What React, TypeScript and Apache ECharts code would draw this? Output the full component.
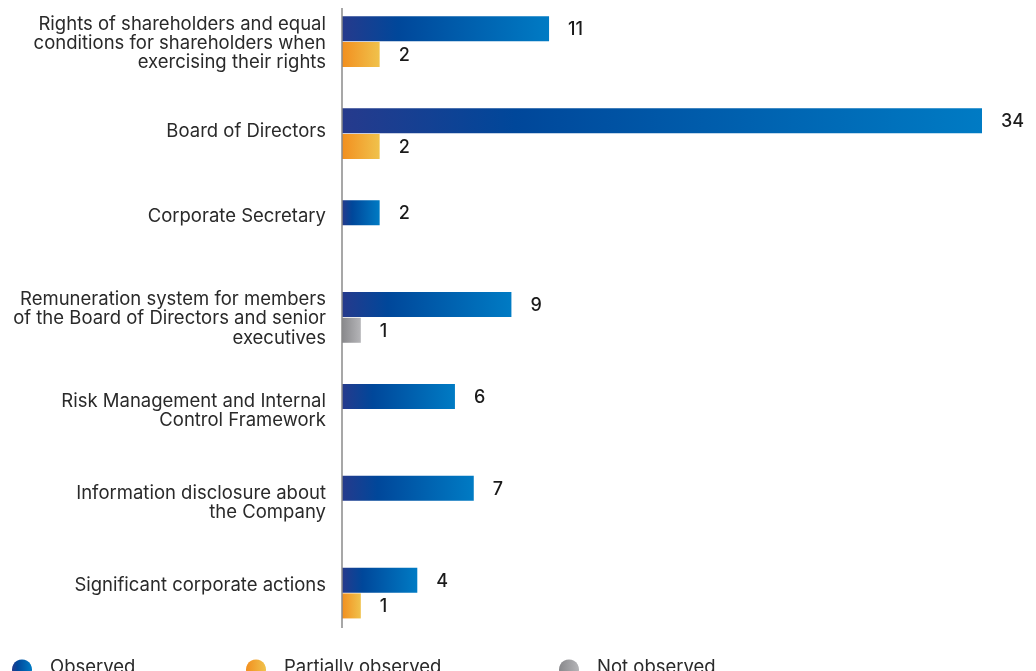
import React, { useEffect, useRef } from "react";
import * as echarts from "echarts";

const categories = [
  "Rights of shareholders and equal\nconditions for shareholders when\nexercising their rights",
  "Board of Directors",
  "Corporate Secretary",
  "Remuneration system for members\nof the Board of Directors and senior\nexecutives",
  "Risk Management and Internal\nControl Framework",
  "Information disclosure about\nthe Company",
  "Significant corporate actions",
];
const observed = [11, 34, 2, 9, 6, 7, 4];
const partiallyObserved = [2, 2, null, null, null, null, 1];
const notObserved = [null, null, null, 1, null, null, null];
const seriesNames = ["Observed", "Partially observed", "Not observed"];

const labelShift = [0, 7, 22, 0, 0, 0, 19];

// the chart canvas starts OFF px above the page so the category band can begin above the top edge
const OFF = 20;

const grad = (stops: [number, string][]) =>
  new echarts.graphic.LinearGradient(
    0,
    0,
    1,
    0,
    stops.map(([offset, color]) => ({ offset, color }))
  );

export default function App() {
  const ref = useRef<HTMLDivElement>(null);
  useEffect(() => {
    if (!ref.current) return;
    const chart = echarts.init(ref.current, undefined, { renderer: "svg" });
    const font = "Inter, 'Noto Sans', sans-serif";
    const valueLabel = {
      show: true,
      position: "right" as const,
      distance: 19,
      fontSize: 18,
      fontWeight: 500,
      color: "#1a1a1a",
      fontFamily: font,
    };
    const rich: Record<string, any> = {};
    labelShift.forEach((s, i) => {
      rich["s" + i] = {
        fontSize: 18.5,
        color: "#2a2a2a",
        fontFamily: font,
        padding: [0, 0, s, 0],
      };
    });
    const legendBase = {
      top: 651 + OFF,
      icon: "circle",
      itemWidth: 20,
      itemHeight: 20,
      formatter: "{t|{name}}\n{g| }",
      textStyle: {
        fontSize: 18.5,
        color: "#2a2a2a",
        fontFamily: font,
        rich: {
          t: {
            fontSize: 18.5,
            color: "#2a2a2a",
            fontFamily: font,
            padding: [0, 0, 0, 13],
          },
          g: { fontSize: 1, lineHeight: 8 },
        },
      },
    };
    chart.setOption({
      animation: false,
      textStyle: { fontFamily: font },
      grid: {
        left: 342,
        right: 54,
        top: OFF - 4.2,
        height: 643.2,
        containLabel: false,
      },
      xAxis: { type: "value", min: 0, max: 34, show: false },
      yAxis: {
        type: "category",
        data: categories,
        inverse: true,
        axisLine: { show: false },
        axisTick: { show: false },
        splitLine: { show: false },
        axisLabel: {
          margin: 16,
          fontSize: 18.5,
          lineHeight: 19.2,
          color: "#2a2a2a",
          fontFamily: font,
          align: "right",
          formatter: (v: string, i: number) =>
            labelShift[i] ? `{s${i}|${v}}` : v,
          rich,
        },
      },
      legend: [
        { ...legendBase, left: 7, data: [seriesNames[0]] },
        { ...legendBase, left: 241, data: [seriesNames[1]] },
        { ...legendBase, left: 554, data: [seriesNames[2]] },
      ],
      graphic: [
        {
          type: "line",
          shape: { x1: 342, y1: 8 + OFF, x2: 342, y2: 628 + OFF },
          style: { stroke: "#8a8a8a", lineWidth: 1.5 },
          z: 10,
        },
      ],
      series: [
        {
          name: seriesNames[0],
          type: "bar",
          data: observed,
          barWidth: 25,
          barGap: "3%",
          itemStyle: {
            color: grad([
              [0, "#263a8c"],
              [0.27, "#00479a"],
              [1, "#007bc4"],
            ]),
          },
          label: valueLabel,
        },
        {
          name: seriesNames[1],
          type: "bar",
          stack: "other",
          data: partiallyObserved,
          barWidth: 25,
          barGap: "3%",
          itemStyle: {
            color: grad([
              [0, "#f28f1f"],
              [1, "#f0c24c"],
            ]),
          },
          label: valueLabel,
        },
        {
          name: seriesNames[2],
          type: "bar",
          stack: "other",
          data: notObserved,
          barWidth: 25,
          barGap: "3%",
          itemStyle: {
            color: grad([
              [0, "#88888b"],
              [1, "#b5b5b8"],
            ]),
          },
          label: valueLabel,
        },
      ],
    });
    return () => chart.dispose();
  }, []);
  return (
    <div
      ref={ref}
      style={{
        position: "fixed",
        left: 0,
        top: -OFF,
        width: 1036,
        height: 671 + OFF,
      }}
    />
  );
}
